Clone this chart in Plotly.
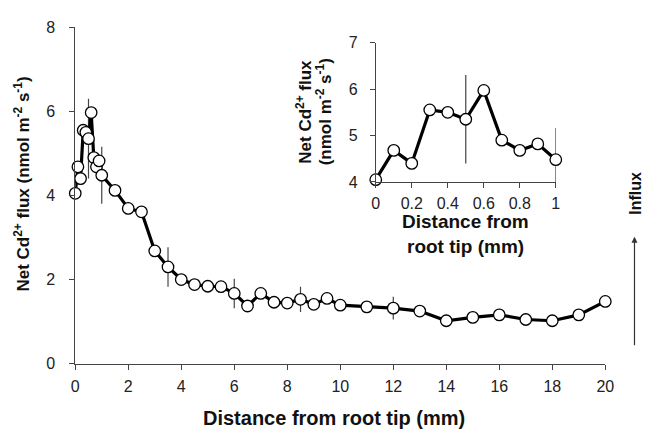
import plotly.graph_objects as go

# ---- data ----
dist_main = [0, 0.1, 0.2, 0.3, 0.4, 0.5, 0.6, 0.7, 0.8, 0.9, 1.0,
             1.5, 2, 2.5, 3, 3.5, 4, 4.5, 5, 5.5, 6, 6.5, 7, 7.5, 8, 8.5, 9, 9.5,
             10, 11, 12, 13, 14, 15, 16, 17, 18, 19, 20]
flux_main = [4.05, 4.68, 4.40, 5.55, 5.50, 5.35, 5.97, 4.90, 4.68, 4.82, 4.48,
             4.12, 3.69, 3.61, 2.68, 2.30, 2.00, 1.88, 1.84, 1.83, 1.67, 1.37, 1.67, 1.46, 1.44, 1.53, 1.41, 1.55,
             1.39, 1.35, 1.32, 1.25, 1.02, 1.10, 1.16, 1.05, 1.02, 1.16, 1.48]
err_main = [0.05, 0.05, 0.05, 0.05, 0.05, 0.95, 0.05, 0.05, 0.05, 0.05, 0.68,
            0.05, 0.05, 0.05, 0.05, 0.47, 0.05, 0.05, 0.05, 0.05, 0.35, 0.05, 0.05, 0.05, 0.05, 0.30, 0.05, 0.05,
            0.05, 0.05, 0.27, 0.05, 0.05, 0.05, 0.05, 0.08, 0.05, 0.05, 0.05]

dist_inset = [0, 0.1, 0.2, 0.3, 0.4, 0.5, 0.6, 0.7, 0.8, 0.9, 1.0]
flux_inset = [4.05, 4.68, 4.40, 5.55, 5.50, 5.35, 5.97, 4.90, 4.68, 4.82, 4.48]
err_inset = [0.05, 0.05, 0.05, 0.05, 0.05, 0.95, 0.05, 0.05, 0.05, 0.05, 0.68]

main_xticks = [0, 2, 4, 6, 8, 10, 12, 14, 16, 18, 20]
main_yticks = [0, 2, 4, 6, 8]
inset_xticks = [0, 0.2, 0.4, 0.6, 0.8, 1]
inset_xlabels = ["0", "0.2", "0.4", "0.6", "0.8", "1"]
inset_yticks = [4, 5, 6, 7]

FONT = "Liberation Sans, Arial, sans-serif"
W, H = 653, 438

fig = go.Figure()

def add_series(x, y, e, xa, ya):
    fig.add_trace(go.Scatter(
        x=x, y=y, mode="markers", xaxis=xa, yaxis=ya,
        marker=dict(size=1, color="rgba(0,0,0,0)"),
        error_y=dict(type="data", array=e, visible=True, color="#444",
                     thickness=1.2, width=0),
        cliponaxis=True, hoverinfo="skip", showlegend=False))
    fig.add_trace(go.Scatter(
        x=x, y=y, mode="lines+markers", xaxis=xa, yaxis=ya,
        line=dict(color="black", width=3.2),
        marker=dict(size=11.5, color="white", line=dict(color="black", width=1.3)),
        cliponaxis=False, showlegend=False))

add_series(dist_main, flux_main, err_main, "x", "y")
add_series(dist_inset, flux_inset, err_inset, "x2", "y2")

axcommon = dict(showgrid=False, zeroline=False, showline=True, linecolor="#444",
                linewidth=1, ticks="outside", ticklen=5, tickcolor="#444",
                tickfont=dict(family=FONT, size=16, color="#222"))

fig.update_layout(
    width=W, height=H, margin=dict(l=0, r=0, t=0, b=0),
    paper_bgcolor="white", plot_bgcolor="white",
    showlegend=False,
    xaxis=dict(domain=[72.7 / W, 613.5 / W], range=[0, 20], tickvals=main_xticks,
               anchor="y", ticklabelstandoff=3, **axcommon),
    yaxis=dict(domain=[1 - 370 / H, 1 - 20 / H], range=[0, 8], tickvals=main_yticks,
               anchor="x", ticklabelstandoff=11, **axcommon),
    xaxis2=dict(domain=[379.3 / W, 563 / W], range=[0, 1], tickvals=inset_xticks,
                ticktext=inset_xlabels, anchor="y2", ticklabelstandoff=2, **axcommon),
    yaxis2=dict(domain=[1 - 181 / H, 1 - 36 / H], range=[4, 7], tickvals=inset_yticks,
                anchor="x2", ticklabelstandoff=9, **axcommon),
)

def ann(text, x, y, size=18, angle=0, bold=True):
    fig.add_annotation(text=f"<b>{text}</b>" if bold else text,
                       x=x / W, y=1 - y / H, xref="paper", yref="paper",
                       showarrow=False, textangle=angle,
                       font=dict(family=FONT, size=size, color="#111"),
                       xanchor="center", yanchor="middle")

ann("Net Cd<sup>2+</sup> flux (nmol m<sup>-2</sup> s<sup>-1</sup>)", 18, 183, size=17, angle=-90)
ann("Distance from root tip (mm)", 337, 427, size=20)
ann("Net Cd<sup>2+</sup> flux", 306, 108, size=17, angle=-90)
ann("(nmol m<sup>-2</sup> s<sup>-1</sup>)", 326, 108, size=17, angle=-90)
ann("Distance from", 471, 222, size=19)
ann("root tip (mm)", 471, 248, size=19)
ann("Influx", 644, 193, size=16, angle=-90)

fig.add_annotation(x=643.3 / W, y=1 - 238 / H, xref="paper", yref="paper",
                   ax=0, ay=110, axref="pixel", ayref="pixel", text="",
                   showarrow=True, arrowhead=2, arrowsize=1, arrowwidth=1.2,
                   arrowcolor="#333")

fig.write_html("out.html")
